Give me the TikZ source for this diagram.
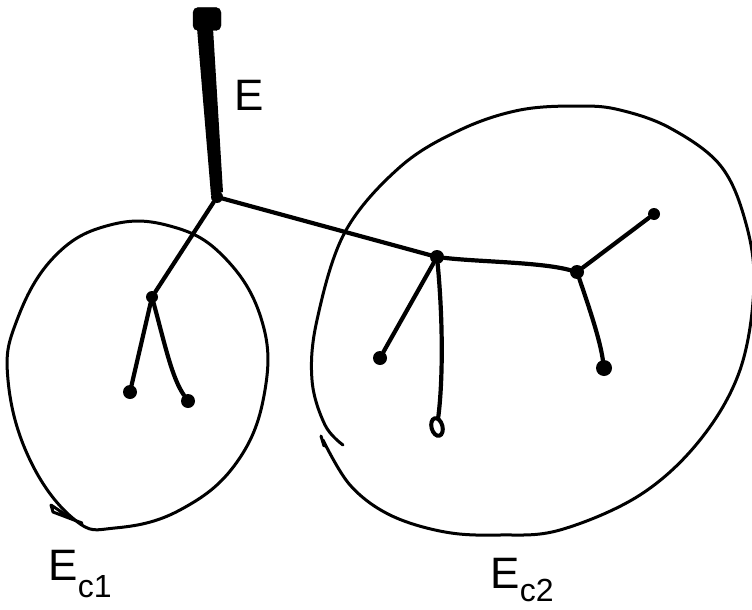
\documentclass[tikz,border=0pt]{standalone}
\usepackage{fontspec}
\setmainfont{Liberation Sans}
\usetikzlibrary{shapes.geometric}
\begin{document}
\begin{tikzpicture}[x=1pt,y=-1pt,
  edge/.style={line width=4.2pt,line cap=round,line join=round},
  ring/.style={line width=3pt,line cap=round,line join=round},
  junc/.style={circle,fill,inner sep=0pt,minimum size=12pt},
  leaf/.style={circle,fill,inner sep=0pt,minimum size=14pt},
  lbl/.style={font=\fontsize{44}{48}\selectfont,inner sep=0pt}]
\useasboundingbox (0,0) rectangle (752,610);
\clip (0,0) rectangle (752,610);
% root square and thick edge E
\node[draw,fill,rounded corners=5pt,minimum width=28pt,minimum height=23pt,inner sep=0pt] (root) at (207,19) {};
\node[junc] (j0) at (217,197) {};
\fill (197,28) -- (213,28) -- (223,192) -- (211,195) -- cycle;
\node[lbl] (E) at (249,95) {E};
% tree
\node[junc] (j1) at (152,297) {};
\node[leaf] (la) at (130,392) {};
\node[leaf] (lb) at (188,401) {};
\node[junc,minimum size=14pt] (j2) at (437,257) {};
\node[junc,minimum size=14pt] (j3) at (577,272) {};
\node[leaf] (lc) at (380,358) {};
\node[draw,ellipse,line width=4pt,inner sep=0pt,minimum width=11pt,minimum height=18pt,rotate=15] (ld) at (437,427) {};
\node[leaf,minimum size=16pt] (le) at (604,368) {};
\node[leaf,minimum size=12pt] (lf) at (654,214) {};
\draw[edge] (j0) -- (j1);
\draw[edge] (j1) -- (la);
\draw[edge] (j1) .. controls (165,345) and (172,378) .. (lb);
\draw[edge] (j0) -- (j2);
\draw[edge] (j2) .. controls (480,262) and (540,262) .. (j3);
\draw[edge] (j2) -- (lc);
\draw[edge] (j2) .. controls (443,320) and (443,380) .. (ld);
\draw[edge] (j3) .. controls (590,310) and (600,340) .. (le);
\draw[edge] (j3) -- (lf);
% circle E_c1
\draw[ring] plot[smooth cycle,tension=0.7] coordinates {(8,380) (30,460) (75,520) (115,528) (180,510) (237,462) (265,390) (261,318) (223,256) (170,226) (110,225) (55,256) (17,320)};
\draw[ring] (72,519) -- (51,505) -- (53,512) -- (82,523);
% circle E_c2
\draw[ring] plot[smooth,tension=0.6] coordinates {(323,440) (350,485) (390,515) (445,532) (500,535) (560,530) (640,495) (700,440) (740,370) (754,285) (745,220) (720,165) (670,128) (620,110) (580,106) (520,110) (460,130) (400,167) (345,232) (317,320) (312,380) (325,425) (343,445)};
\draw[ring] (321,436) -- (324,446);
% labels
\node[lbl] (Ec1) at (80,574) {E\raisebox{-0.38em}{\fontsize{32}{34}\selectfont c1}};
\node[lbl] (Ec2) at (522,580) {E\raisebox{-0.3em}{\fontsize{32}{34}\selectfont c2}};
\end{tikzpicture}
\end{document}
